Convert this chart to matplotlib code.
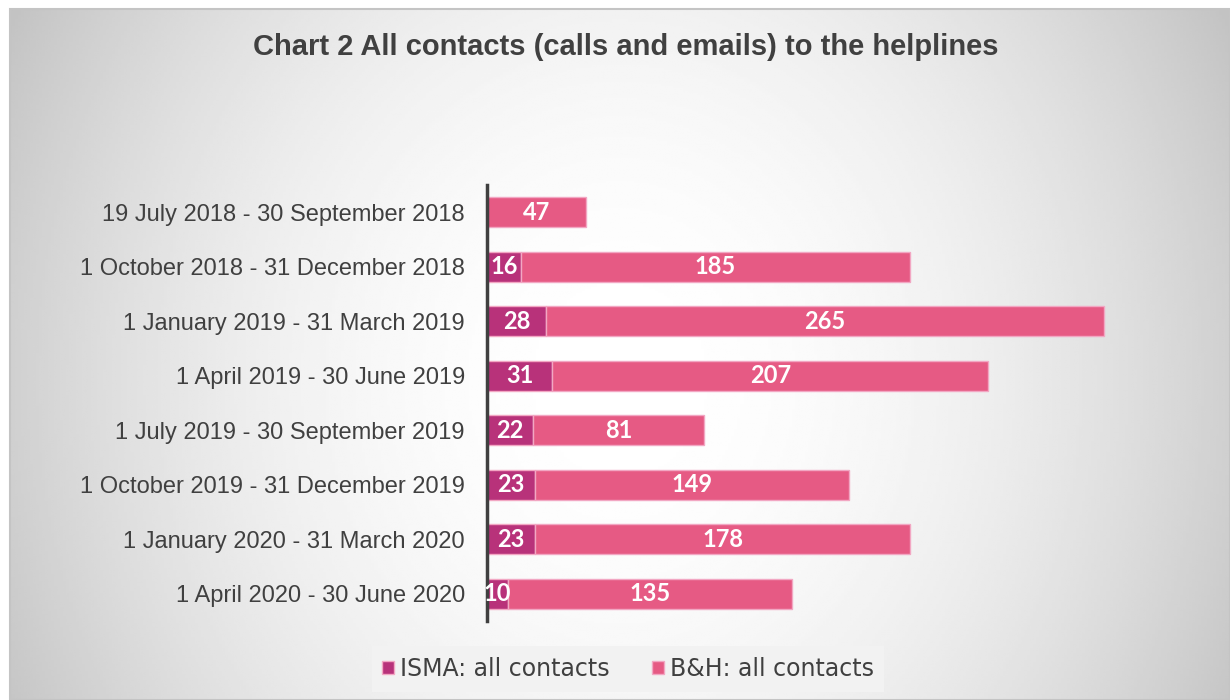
import numpy as np
import matplotlib.pyplot as plt
from matplotlib.patches import Rectangle

periods = ['19 July 2018 - 30 September 2018',
           '1 October 2018 - 31 December 2018',
           '1 January 2019 - 31 March 2019',
           '1 April 2019 - 30 June 2019',
           '1 July 2019 - 30 September 2019',
           '1 October 2019 - 31 December 2019',
           '1 January 2020 - 31 March 2020',
           '1 April 2020 - 30 June 2020']
isma = [0, 16, 28, 31, 22, 23, 23, 10]
bh = [47, 185, 265, 207, 81, 149, 178, 135]

W, H = 1230, 700
fig = plt.figure(figsize=(12.3, 7), dpi=100)

# background with radial gradient
bg = fig.add_axes([0, 0, 1, 1], zorder=-2)
bg.set_xlim(0, W)
bg.set_ylim(H, 0)
bg.axis('off')
x0, y0 = 10, 9
xx, yy = np.meshgrid(np.linspace(x0, W, 400), np.linspace(y0, H, 300))
r2 = ((xx - 620) / 620) ** 2 + ((yy - 380) / 700) ** 2
shade = np.clip(1.0 - 0.19 * r2, 0.76, 1.0)
bg.imshow(shade, extent=[x0, W, H, y0], cmap='gray', vmin=0, vmax=1,
          aspect='auto', interpolation='bilinear')
bg.add_patch(Rectangle((x0, y0), W - x0, H - y0, fill=False, ec='#c4c4c4', lw=1.5))

fig.text(626 / W, 1 - 47 / H, 'Chart 2 All contacts (calls and emails) to the helplines',
         ha='center', va='center', fontsize=21, fontweight='bold', color='#404040',
         family='Liberation Sans')

ax = fig.add_axes([487 / W, 79 / H, 632 / W, 436 / H])
ax.patch.set_alpha(0)
y = np.arange(len(periods))
b1 = ax.barh(y, isma, height=0.55, color='#b8327a', ec='#f2a7c3', lw=1,
             label='ISMA: all contacts')
b2 = ax.barh(y, bh, left=isma, height=0.55, color='#e65a84', ec='#f2a7c3', lw=1,
             label='B&H: all contacts')
for i in range(len(periods)):
    if isma[i] > 0:
        ax.text(isma[i] / 2, i, str(isma[i]), ha='center', va='center', color='white',
                fontsize=17, fontweight='bold', family='Lato')
    ax.text(isma[i] + bh[i] / 2, i, str(bh[i]), ha='center', va='center', color='white',
            fontsize=17, fontweight='bold', family='Lato')
ax.set_xlim(0, 300)
ax.set_ylim(len(periods) - 0.5, -0.5)
ax.set_yticks(y)
ax.set_yticklabels(periods, fontsize=17, color='#404040', family='Liberation Sans')
ax.tick_params(axis='y', length=0, pad=16)
ax.set_xticks([])
for s in ['top', 'right', 'bottom']:
    ax.spines[s].set_visible(False)
ax.spines['left'].set_linewidth(2.5)
ax.spines['left'].set_color('#404040')

leg = fig.legend(handles=[b1, b2], loc='center', bbox_to_anchor=(628 / W, 1 - 669 / H),
                 ncol=2, frameon=True, fancybox=False, edgecolor='none',
                 facecolor='#f2f2f2', framealpha=1, prop={'family': 'DejaVu Sans', 'size': 17},
                 handlelength=0.5, handleheight=0.5, handletextpad=0.25, columnspacing=1.8,
                 borderpad=0.45, borderaxespad=0)
for t in leg.get_texts():
    t.set_color('#404040')

fig.savefig('out.png', dpi=100)
